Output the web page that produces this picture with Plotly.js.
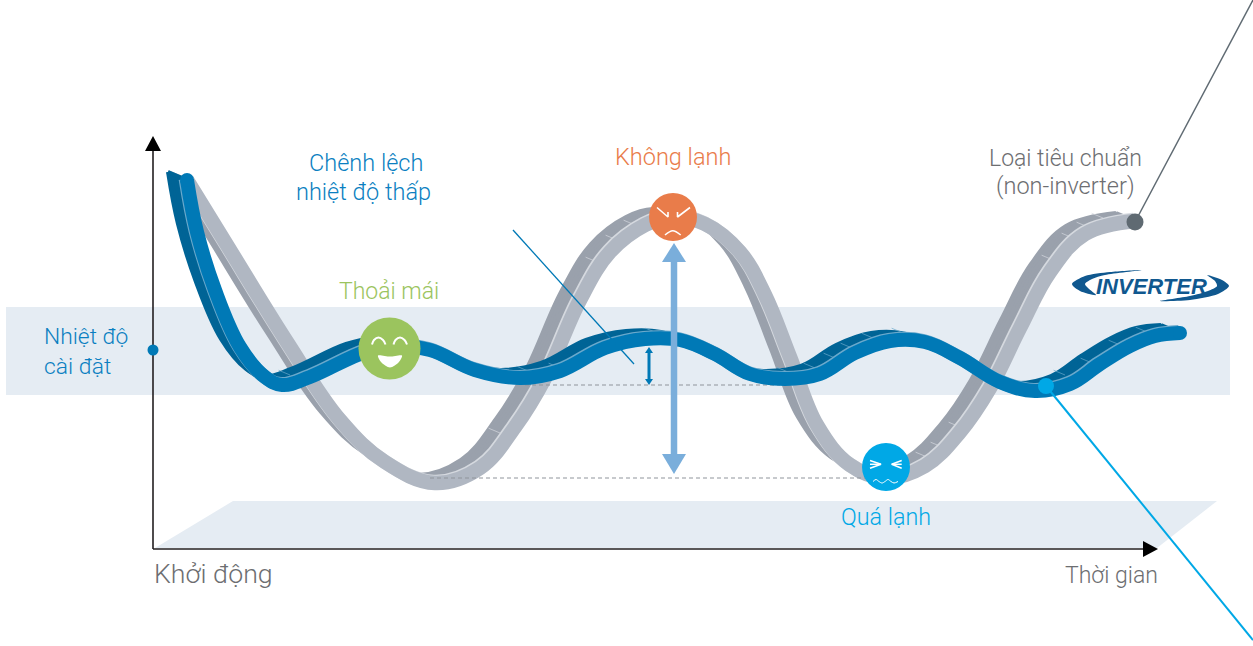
<!DOCTYPE html>
<html>
<head>
<meta charset="utf-8">
<script src="https://cdn.plot.ly/plotly-3.0.1.min.js"></script>
<style>html,body{margin:0;padding:0;background:#fff}#c{width:1253px;height:646px}</style>
</head>
<body>
<div id="c"></div>
<script>
// ---- curve readings (chart units match the picture's scale) ----
const grayX = [187,227,287,340,385,435,480,515,545,580,610,645,672,705,740,765,790,817,850,885,925,960,990,1020,1050,1085,1135];
const grayY = [180,245,342,420,462,483,468,427,378,300,252,225,217,224,252,295,357,425,465,478,466,432,388,328,272,234,221];
const blueX = [187,197,215,240,265,282,310,365,395,430,475,520,560,605,645,680,715,750,785,820,855,890,925,960,1000,1035,1070,1100,1130,1155,1180];
const blueY = [180,232,290,347,377,385,377,352,346,350,370,378,371,348,339,340,354,374,379,374,353,341,342,358,382,391,384,364,346,336,333];
const grayHatchX = [500,597,617,635,927,942,960,1053,1073,1088,1103];
const grayHatchY = [433,262,240,225,457,447,427,260,238,227,218];
const blueHatchX = [290,528,560,657,788,815,835,852,873,903,1065,1092,1120,1147];
const blueHatchY = [375,371,368,333,372,368,358,348,338,333,375,363,345,332];
const sideDX = -19, sideDY = -8;

const bandX = [6,1230,1230,6];
const bandY = [307,307,395,395];
const floorX = [233,1217,1157,155];
const floorY = [501,501,548,548];

const xAxisX = [153,1145]; const xAxisY = [549,549];
const yAxisX = [153,153];  const yAxisY = [549,150];
const xHeadX = [1158,1143,1143]; const xHeadY = [549,541,557];
const yHeadX = [153,145,161];    const yHeadY = [136,151,151];

const grayLeaderX = [1135,1253]; const grayLeaderY = [222,0];
const cyanLeaderX = [1046,1253]; const cyanLeaderY = [386,640];
const diffLeaderX = [513,634];   const diffLeaderY = [230,364];
const dashX = [525,780,null,430,866]; const dashY = [385,385,null,478,478];

const bigShaftX = [674,674]; const bigShaftY = [258,458];
const bigHeadTopX = [674,662,686]; const bigHeadTopY = [243,262,262];
const bigHeadBotX = [674,662,686]; const bigHeadBotY = [474,454,454];
const smallShaftX = [649,649]; const smallShaftY = [351,381];
const smallTopX = [649,645,653]; const smallTopY = [347,353,353];
const smallBotX = [649,645,653]; const smallBotY = [385,379,379];

const faceX = [389.5,673,886]; const faceY = [348.5,217,467];
const faceD = [62,48,48]; const faceC = ['#9bc45e','#e97c4a','#00a8e6'];

const smileEyesX = [372,374,378.5,383,385.5,null,393.5,395.5,400,404.5,407];
const smileEyesY = [344.5,340,337.5,340,344.5,null,344.5,340,337.5,340,344.5];
const smileMouthX = [378,381,390,399,402,390,378];
const smileMouthY = [355.5,362,367.5,362,355.5,356.5,355.5];
const angryX = [657,668,668,null,690,677.5,677.5,null];
const angryY = [207.5,217,212,null,207.5,217,212,null];
const angryMouthX = [665,672.7,680.7]; const angryMouthY = [235,230.7,235];
const coldEyesX = [870,881,870,null,870,881,null,901.7,891.7,901.7,null,901.7,891.7];
const coldEyesY = [460.5,464.3,468.3,null,464.3,464.3,null,460.5,464.3,468.3,null,464.3,464.3];
const coldWaveX = [873,876,879,882,885,888,891,894,898];
const coldWaveY = [481.5,479.5,481.5,483,481.5,479.5,481.5,483,481.5];

const dotX = [153,1135,1046]; const dotY = [350,222,386];
const dotD = [11,17,16]; const dotC = ['#0079b6','#5f6a72','#00a8e6'];

const logoLeftX = [1142,1110,1085,1072,1080,1096,1088,1085,1092,1105,1142];
const logoLeftY = [270,272,276,284,291,295,288,284,279,275,270];
const logoRightX = [1160,1190,1218,1229,1222,1207,1215,1217,1208,1190,1160];
const logoRightY = [301,300,294,286,280,275,281,286,291,296,301];

const labelText = ['Chênh lệch','nhiệt độ thấp','Không lạnh','Loại tiêu chuẩn','(non-inverter)','Thoải mái','Nhiệt độ','cài đặt','Quá lạnh','Khởi động','Thời gian'];
const labelX = [365.5,363.5,673,1065,1065,389,42,42,885.5,151.5,1160];
const labelY = [163,192,157,158,186,291,336,366,517,574,575];
const labelAnchor = ['center','center','center','center','center','center','left','left','center','left','right'];
const labelColor = ['#0b7fc1','#0b7fc1','#e97c4a','#6d6e71','#6d6e71','#9bc45e','#0b7fc1','#0b7fc1','#00a8e6','#6d6e71','#6d6e71'];
const labelSize = [23.5,23.5,23.5,23,23.5,23,22.8,22.8,23.3,26.7,23];

// ---- helpers ----
function poly(x,y,color,extra){return Object.assign({x,y,mode:'lines',fill:'toself',fillcolor:color,line:{width:0,color},hoverinfo:'skip'},extra||{});}
function line(x,y,color,width,extra){return {x,y,mode:'lines',line:Object.assign({color,width},extra||{}),hoverinfo:'skip'};}
function sweep(xs,ys,n){let X=[],Y=[];for(let i=0;i<=n;i++){const t=i/n;X=X.concat(xs.map(v=>v+sideDX*t),[null]);Y=Y.concat(ys.map(v=>v+sideDY*t),[null]);}return [X,Y];}
function hatches(xs,ys){let X=[],Y=[];xs.forEach((x,i)=>{X.push(x,x+sideDX*0.6,null);Y.push(ys[i],ys[i]+sideDY*0.6,null);});return [X,Y];}
function ribbon(xs,ys,hxs,hys,dark,light,seam,w){
  const [sx,sy]=sweep(xs,ys,8);
  const [hx,hy]=hatches(hxs,hys);
  const sp={shape:'spline',smoothing:1.1};
  const n=xs.length-1;
  return [
    line(sx,sy,dark,4,sp),
    line([xs[0],xs[0]+sideDX,null,xs[n],xs[n]+sideDX],[ys[0],ys[0]+sideDY,null,ys[n],ys[n]+sideDY],dark,4),
    line(hx,hy,seam,0.7),
    line(xs.map(v=>v-1.4),ys.map(v=>v-1),seam,w,sp),
    line(xs,ys,light,w,sp)
  ];
}
const spl={shape:'spline',smoothing:1};

const traces=[
  poly(bandX,bandY,'#e5ecf3'),
  poly(floorX,floorY,'#e5ecf3'),
  ...ribbon(grayX,grayY,grayHatchX,grayHatchY,'#9aa1ac','#b0b7c2','#d5d9df',14.5),
  line(dashX,dashY,'#8f949b',1,{dash:'4px,3px'}),
  ...ribbon(blueX,blueY,blueHatchX,blueHatchY,'#006496','#0079b6','#6aa9cc',14),
  {x:[blueX[0],blueX[blueX.length-1]],y:[blueY[0],blueY[blueY.length-1]],mode:'markers',marker:{size:14,color:'#0079b6',opacity:1},hoverinfo:'skip'},
  line(diffLeaderX,diffLeaderY,'#0079b6',1.3),
  line(bigShaftX,bigShaftY,'#7aaedb',6.5),
  poly(bigHeadTopX,bigHeadTopY,'#7aaedb'),
  poly(bigHeadBotX,bigHeadBotY,'#7aaedb'),
  line(smallShaftX,smallShaftY,'#0079b6',3),
  poly(smallTopX,smallTopY,'#0079b6'),
  poly(smallBotX,smallBotY,'#0079b6'),
  line(grayLeaderX,grayLeaderY,'#5f6a72',1.5),
  line(cyanLeaderX,cyanLeaderY,'#00a8e6',2),
  line(xAxisX,xAxisY,'#231f20',1.6),
  line(yAxisX,yAxisY,'#231f20',1.6),
  poly(xHeadX,xHeadY,'#000'),
  poly(yHeadX,yHeadY,'#000'),
  {x:faceX,y:faceY,mode:'markers',marker:{size:faceD,color:faceC,opacity:1,line:{width:0}},hoverinfo:'skip'},
  {x:dotX,y:dotY,mode:'markers',marker:{size:dotD,color:dotC,opacity:1,line:{width:0}},hoverinfo:'skip'},
  line(smileEyesX,smileEyesY,'#fff',2,spl),
  poly(smileMouthX,smileMouthY,'#fff',{line:{width:0,color:'#fff',shape:'spline',smoothing:0.8}}),
  line(angryX,angryY,'#fff',1.6),
  line(angryMouthX,angryMouthY,'#fff',1.6,spl),
  line(coldEyesX,coldEyesY,'#fff',1.5),
  line(coldWaveX,coldWaveY,'#fff',1,spl),
  poly(logoLeftX,logoLeftY,'#10588f',{line:{width:0,color:'#10588f',shape:'spline',smoothing:0.8}}),
  poly(logoRightX,logoRightY,'#10588f',{line:{width:0,color:'#10588f',shape:'spline',smoothing:0.8}})
];

const annotations=labelText.map((t,i)=>({
  text:t,x:labelX[i],y:labelY[i],xref:'x',yref:'y',showarrow:false,xanchor:labelAnchor[i],yanchor:'middle',
  font:{family:'Roboto, sans-serif',size:labelSize[i],color:labelColor[i],weight:300}
}));
annotations.push({text:'<b><i>INVERTER</i></b>',x:1151,y:286,xref:'x',yref:'y',showarrow:false,xanchor:'center',yanchor:'middle',
  font:{family:'Liberation Sans, sans-serif',size:22,color:'#10588f'}});

Plotly.newPlot('c',traces,{
  width:1253,height:646,margin:{l:0,r:0,t:0,b:0},showlegend:false,
  paper_bgcolor:'#fff',plot_bgcolor:'#fff',hovermode:false,
  xaxis:{range:[0,1253],visible:false,fixedrange:true},
  yaxis:{range:[646,0],visible:false,fixedrange:true},
  annotations
},{displayModeBar:false,staticPlot:true});
</script>
</body>
</html>
